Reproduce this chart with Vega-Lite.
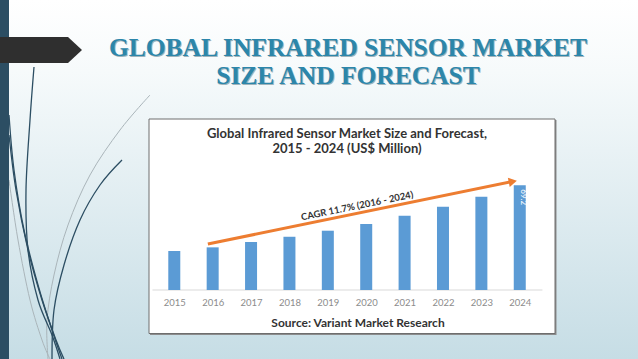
{
  "$schema": "https://vega.github.io/schema/vega-lite/v6.json",
  "width": 638,
  "height": 359,
  "autosize": {"type": "none"},
  "padding": 0,
  "config": {
    "view": {
      "stroke": null,
      "fill": {"gradient": "linear", "x1": 0, "y1": 0, "x2": 0, "y2": 1,
        "stops": [{"offset": 0, "color": "#ffffff"}, {"offset": 0.2, "color": "#f6fafb"}, {"offset": 1, "color": "#c6dde5"}]}
    }
  },
  "datasets": {
    "bars": [
      {"year": 2015, "value": 25.8},
      {"year": 2016, "value": 28.2},
      {"year": 2017, "value": 31.7},
      {"year": 2018, "value": 35.2},
      {"year": 2019, "value": 39.2},
      {"year": 2020, "value": 43.6},
      {"year": 2021, "value": 49.1},
      {"year": 2022, "value": 55.1},
      {"year": 2023, "value": 61.7},
      {"year": 2024, "value": 69.2}
    ],
    "arrow": [
      {"year": 2015.92, "value": 30.4},
      {"year": 2023.67, "value": 71.4}
    ],
    "curves": [
      {"id": "c1", "tone": "dark", "i": 0, "x": 34, "y": 67},
      {"id": "c1", "tone": "dark", "i": 1, "x": 30, "y": 120},
      {"id": "c1", "tone": "dark", "i": 2, "x": 26, "y": 190},
      {"id": "c1", "tone": "dark", "i": 3, "x": 28, "y": 250},
      {"id": "c1", "tone": "dark", "i": 4, "x": 38, "y": 300},
      {"id": "c1", "tone": "dark", "i": 5, "x": 52, "y": 335},
      {"id": "c1", "tone": "dark", "i": 6, "x": 60, "y": 359},
      {"id": "c2", "tone": "dark", "i": 0, "x": 9, "y": 115},
      {"id": "c2", "tone": "dark", "i": 1, "x": 14, "y": 170},
      {"id": "c2", "tone": "dark", "i": 2, "x": 24, "y": 230},
      {"id": "c2", "tone": "dark", "i": 3, "x": 38, "y": 285},
      {"id": "c2", "tone": "dark", "i": 4, "x": 52, "y": 330},
      {"id": "c2", "tone": "dark", "i": 5, "x": 62, "y": 359},
      {"id": "c3", "tone": "dark", "i": 0, "x": 9, "y": 135},
      {"id": "c3", "tone": "dark", "i": 1, "x": 16, "y": 190},
      {"id": "c3", "tone": "dark", "i": 2, "x": 28, "y": 250},
      {"id": "c3", "tone": "dark", "i": 3, "x": 42, "y": 300},
      {"id": "c3", "tone": "dark", "i": 4, "x": 56, "y": 340},
      {"id": "c3", "tone": "dark", "i": 5, "x": 64, "y": 359},
      {"id": "c4", "tone": "dark", "i": 0, "x": 122, "y": 160},
      {"id": "c4", "tone": "dark", "i": 1, "x": 100, "y": 185},
      {"id": "c4", "tone": "dark", "i": 2, "x": 80, "y": 220},
      {"id": "c4", "tone": "dark", "i": 3, "x": 64, "y": 265},
      {"id": "c4", "tone": "dark", "i": 4, "x": 54, "y": 310},
      {"id": "c4", "tone": "dark", "i": 5, "x": 52, "y": 359},
      {"id": "c5", "tone": "light", "i": 0, "x": 150, "y": 95},
      {"id": "c5", "tone": "light", "i": 1, "x": 120, "y": 130},
      {"id": "c5", "tone": "light", "i": 2, "x": 90, "y": 175},
      {"id": "c5", "tone": "light", "i": 3, "x": 68, "y": 225},
      {"id": "c5", "tone": "light", "i": 4, "x": 54, "y": 275},
      {"id": "c5", "tone": "light", "i": 5, "x": 47, "y": 320},
      {"id": "c5", "tone": "light", "i": 6, "x": 48, "y": 359},
      {"id": "c6", "tone": "light", "i": 0, "x": 9, "y": 180},
      {"id": "c6", "tone": "light", "i": 1, "x": 18, "y": 240},
      {"id": "c6", "tone": "light", "i": 2, "x": 30, "y": 300},
      {"id": "c6", "tone": "light", "i": 3, "x": 42, "y": 340},
      {"id": "c6", "tone": "light", "i": 4, "x": 50, "y": 359}
    ],
    "tab": [
      {"x": 0, "top": 37, "bottom": 63},
      {"x": 68, "top": 37, "bottom": 63},
      {"x": 82, "top": 50, "bottom": 50}
    ]
  },
  "resolve": {"scale": {"x": "independent", "y": "independent"}, "axis": {"x": "independent", "y": "independent"}},
  "layer": [
    {
      "data": {"name": "curves"},
      "transform": [{"filter": "datum.tone === 'light'"}],
      "mark": {"type": "line", "interpolate": "cardinal", "color": "#aab5ba", "strokeWidth": 1},
      "encoding": {
        "x": {"field": "x", "type": "quantitative", "scale": {"domain": [0, 638], "nice": false, "zero": false}, "axis": null},
        "y": {"field": "y", "type": "quantitative", "scale": {"domain": [0, 359], "nice": false, "zero": false, "reverse": true}, "axis": null},
        "detail": {"field": "id"},
        "order": {"field": "i"}
      }
    },
    {
      "data": {"name": "curves"},
      "transform": [{"filter": "datum.tone === 'dark'"}],
      "mark": {"type": "line", "interpolate": "cardinal", "color": "#2c4e63", "strokeWidth": 1.3},
      "encoding": {
        "x": {"field": "x", "type": "quantitative", "scale": {"domain": [0, 638], "nice": false, "zero": false}, "axis": null},
        "y": {"field": "y", "type": "quantitative", "scale": {"domain": [0, 359], "nice": false, "zero": false, "reverse": true}, "axis": null},
        "detail": {"field": "id"},
        "order": {"field": "i"}
      }
    },
    {
      "data": {"values": [{}]},
      "mark": {"type": "rect", "color": "#2c4e63"},
      "encoding": {
        "x": {"datum": 0, "type": "quantitative", "scale": {"domain": [0, 638], "nice": false, "zero": false}, "axis": null},
        "x2": {"datum": 9},
        "y": {"datum": 0, "type": "quantitative", "scale": {"domain": [0, 359], "nice": false, "zero": false, "reverse": true}, "axis": null},
        "y2": {"datum": 359}
      }
    },
    {
      "data": {"name": "tab"},
      "mark": {"type": "area", "color": "#2f2f2f", "orient": "vertical"},
      "encoding": {
        "x": {"field": "x", "type": "quantitative", "scale": {"domain": [0, 638], "nice": false, "zero": false}, "axis": null},
        "y": {"field": "top", "type": "quantitative", "scale": {"domain": [0, 359], "nice": false, "zero": false, "reverse": true}, "axis": null},
        "y2": {"field": "bottom"}
      }
    },
    {
      "data": {"values": [{}]},
      "mark": {"type": "rect", "color": "#8c8c8c"},
      "encoding": {
        "x": {"datum": 150, "type": "quantitative", "scale": {"domain": [0, 638], "nice": false, "zero": false}, "axis": null},
        "x2": {"datum": 556.5},
        "y": {"datum": 120, "type": "quantitative", "scale": {"domain": [0, 359], "nice": false, "zero": false, "reverse": true}, "axis": null},
        "y2": {"datum": 335}
      }
    },
    {
      "data": {"values": [{}]},
      "mark": {"type": "rect", "fill": "#ffffff", "stroke": "#6e6e6e", "strokeWidth": 1},
      "encoding": {
        "x": {"datum": 149, "type": "quantitative", "scale": {"domain": [0, 638], "nice": false, "zero": false}, "axis": null},
        "x2": {"datum": 555},
        "y": {"datum": 119, "type": "quantitative", "scale": {"domain": [0, 359], "nice": false, "zero": false, "reverse": true}, "axis": null},
        "y2": {"datum": 333.5}
      }
    },
    {
      "data": {"values": [{"t": "GLOBAL INFRARED SENSOR MARKET", "row": 1}, {"t": "SIZE AND FORECAST", "row": 2}]},
      "mark": {"type": "text", "font": "Liberation Serif", "fontWeight": "bold", "fontSize": 25.5, "color": "#9fb3bb", "align": "center", "baseline": "middle", "dx": 1, "dy": 1},
      "encoding": {
        "x": {"datum": 348, "type": "quantitative", "scale": {"domain": [0, 638], "nice": false, "zero": false}, "axis": null},
        "y": {"field": "row", "type": "quantitative", "scale": {"domain": [-0.655, 11.81], "nice": false, "zero": false, "reverse": true}, "axis": null},
        "text": {"field": "t"}
      }
    },
    {
      "data": {"values": [{"t": "GLOBAL INFRARED SENSOR MARKET", "row": 1}, {"t": "SIZE AND FORECAST", "row": 2}]},
      "mark": {"type": "text", "font": "Liberation Serif", "fontWeight": "bold", "fontSize": 25.5, "color": "#2c86aa", "align": "center", "baseline": "middle"},
      "encoding": {
        "x": {"datum": 348, "type": "quantitative", "scale": {"domain": [0, 638], "nice": false, "zero": false}, "axis": null},
        "y": {"field": "row", "type": "quantitative", "scale": {"domain": [-0.655, 11.81], "nice": false, "zero": false, "reverse": true}, "axis": null},
        "text": {"field": "t"}
      }
    },
    {
      "data": {"values": [{"t": "Global Infrared Sensor Market Size and Forecast,", "row": 1}, {"t": "2015 - 2024 (US$ Million)", "row": 2}]},
      "mark": {"type": "text", "font": "Lato", "fontWeight": "bold", "fontSize": 13, "color": "#333333", "align": "center", "baseline": "middle"},
      "encoding": {
        "x": {"datum": 347, "type": "quantitative", "scale": {"domain": [0, 638], "nice": false, "zero": false}, "axis": null},
        "y": {"field": "row", "type": "quantitative", "scale": {"domain": [-7.93, 16.0], "nice": false, "zero": false, "reverse": true}, "axis": null},
        "text": {"field": "t"}
      }
    },
    {
      "data": {"values": [{"t": "Source: Variant Market Research"}]},
      "mark": {"type": "text", "font": "Lato", "fontWeight": "bold", "fontSize": 12, "color": "#333333", "align": "center", "baseline": "middle"},
      "encoding": {
        "x": {"datum": 358, "type": "quantitative", "scale": {"domain": [0, 638], "nice": false, "zero": false}, "axis": null},
        "y": {"datum": 323, "type": "quantitative", "scale": {"domain": [0, 359], "nice": false, "zero": false, "reverse": true}, "axis": null},
        "text": {"field": "t"}
      }
    },
    {
      "data": {"values": [{}]},
      "mark": {"type": "rule", "color": "#d9d9d9", "strokeWidth": 1},
      "encoding": {
        "x": {"datum": 2014.5, "type": "quantitative", "scale": {"domain": [2010.59, 2026.95], "nice": false, "zero": false}, "axis": null},
        "x2": {"datum": 2024.5},
        "y": {"datum": 0, "type": "quantitative", "scale": {"domain": [-45.6, 191.7], "nice": false, "zero": false}, "axis": null}
      }
    },
    {
      "data": {"name": "bars"},
      "mark": {"type": "bar", "width": 12, "color": "#5b9bd5"},
      "encoding": {
        "x": {"field": "year", "type": "quantitative", "scale": {"domain": [2010.59, 2026.95], "nice": false, "zero": false},
          "axis": {"values": [2015, 2016, 2017, 2018, 2019, 2020, 2021, 2022, 2023, 2024], "format": "d", "offset": -69, "zindex": 1, "domain": false, "ticks": false, "grid": false, "title": null, "labelColor": "#8c8c8c", "labelFont": "Lato", "labelFontSize": 9.5, "labelPadding": 7}},
        "y": {"field": "value", "type": "quantitative", "scale": {"domain": [-45.6, 191.7], "nice": false, "zero": false}, "axis": null}
      }
    },
    {
      "data": {"name": "bars"},
      "transform": [{"filter": "datum.year === 2024"}],
      "mark": {"type": "text", "angle": 90, "align": "left", "baseline": "middle", "dx": 4, "color": "#ffffff", "fontSize": 8, "font": "Lato"},
      "encoding": {
        "x": {"field": "year", "type": "quantitative", "scale": {"domain": [2010.59, 2026.95], "nice": false, "zero": false}, "axis": null},
        "y": {"field": "value", "type": "quantitative", "scale": {"domain": [-45.6, 191.7], "nice": false, "zero": false}, "axis": null},
        "text": {"field": "value", "format": ".1f"}
      }
    },
    {
      "data": {"name": "arrow"},
      "mark": {"type": "line", "color": "#ed7d31", "strokeWidth": 3},
      "encoding": {
        "x": {"field": "year", "type": "quantitative", "scale": {"domain": [2010.59, 2026.95], "nice": false, "zero": false}, "axis": null},
        "y": {"field": "value", "type": "quantitative", "scale": {"domain": [-45.6, 191.7], "nice": false, "zero": false}, "axis": null}
      }
    },
    {
      "data": {"values": [{}]},
      "mark": {"type": "point", "shape": "triangle-right", "filled": true, "opacity": 1, "color": "#ed7d31", "size": 90, "angle": 348.4},
      "encoding": {
        "x": {"datum": 2023.74, "type": "quantitative", "scale": {"domain": [2010.59, 2026.95], "nice": false, "zero": false}, "axis": null},
        "y": {"datum": 71.7, "type": "quantitative", "scale": {"domain": [-45.6, 191.7], "nice": false, "zero": false}, "axis": null}
      }
    },
    {
      "data": {"values": [{"t": "CAGR 11.7% (2016 - 2024)"}]},
      "mark": {"type": "text", "angle": 348.4, "align": "center", "baseline": "middle", "font": "Lato", "fontWeight": "bold", "fontSize": 9.5, "color": "#333333"},
      "encoding": {
        "x": {"datum": 2019.75, "type": "quantitative", "scale": {"domain": [2010.59, 2026.95], "nice": false, "zero": false}, "axis": null},
        "y": {"datum": 55.5, "type": "quantitative", "scale": {"domain": [-45.6, 191.7], "nice": false, "zero": false}, "axis": null},
        "text": {"field": "t"}
      }
    }
  ]
}
